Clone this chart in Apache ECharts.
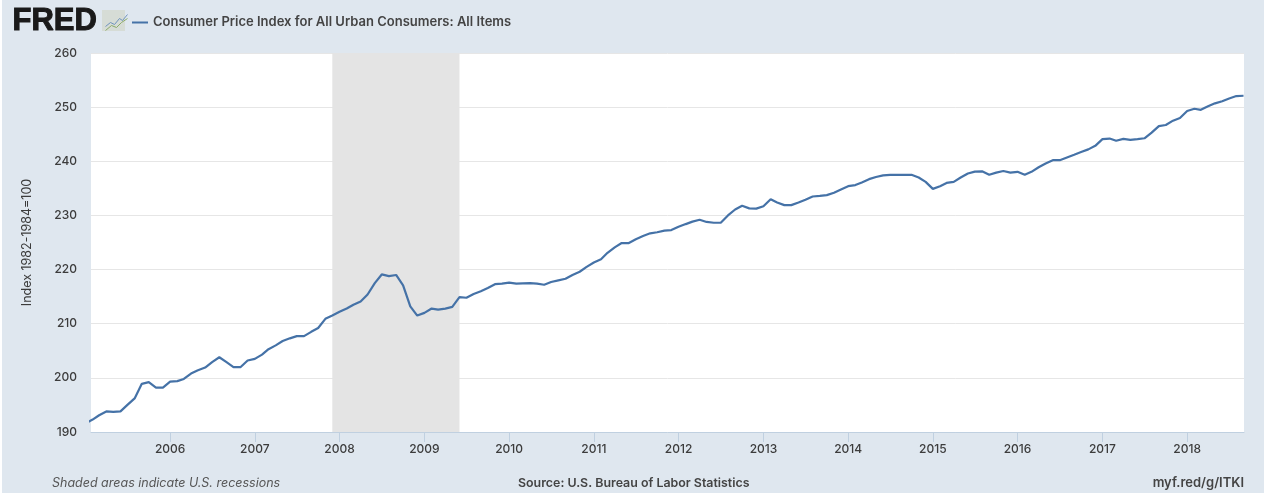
<!DOCTYPE html>
<html>
<head>
<meta charset="utf-8">
<title>FRED CPI</title>
<script src="https://cdn.jsdelivr.net/npm/echarts@6/dist/echarts.min.js"></script>
<style>
  html, body { margin: 0; padding: 0; background: #fff; }
  #chart { position: absolute; left: 2px; top: 0; width: 1262px; height: 493px; }
</style>
</head>
<body>
<div id="chart"></div>
<script>
// monthly values, starting at january 2005
const startYear = 2005;
const cpi = [
  191.6, 192.3, 193.1, 193.8, 193.7, 193.8, 195.0, 196.2, 198.9, 199.2, 198.2, 198.2,
  199.3, 199.4, 199.8, 200.8, 201.4, 201.9, 202.9, 203.8, 202.9, 202.0, 202.0, 203.2,
  203.5, 204.3, 205.3, 206.0, 206.8, 207.3, 207.7, 207.7, 208.5, 209.2, 210.9, 211.5,
  212.2, 212.8, 213.5, 214.1, 215.4, 217.5, 219.1, 218.8, 219.0, 217.1, 213.2, 211.5,
  212.0, 212.8, 212.6, 212.8, 213.1, 214.9, 214.8, 215.5, 216.0, 216.6, 217.3, 217.4,
  217.6, 217.4, 217.45, 217.5, 217.4, 217.2, 217.7, 218.0, 218.3, 219.0, 219.6, 220.5,
  221.3, 221.9, 223.1, 224.1, 224.9, 224.9, 225.6, 226.2, 226.7, 226.9, 227.2, 227.3,
  227.9, 228.4, 228.85, 229.2, 228.8, 228.65, 228.65, 230.0, 231.1, 231.8, 231.3, 231.25,
  231.7, 233.0, 232.4, 231.9, 231.9, 232.4, 232.9, 233.5, 233.6, 233.75, 234.2, 234.8,
  235.4, 235.6, 236.1, 236.7, 237.1, 237.4, 237.5, 237.5, 237.5, 237.5, 237.0, 236.2,
  234.9, 235.4, 236.0, 236.2, 237.0, 237.75, 238.1, 238.15, 237.5, 237.9, 238.2, 237.9,
  238.05, 237.5, 238.05, 238.9, 239.6, 240.2, 240.2, 240.7, 241.2, 241.7, 242.2, 242.85,
  244.1, 244.2, 243.8, 244.15, 243.95, 244.1, 244.25, 245.3, 246.5, 246.7, 247.5, 248.0,
  249.3, 249.7, 249.5, 250.15, 250.7, 251.1, 251.6, 252.05, 252.1
];
const yTicks = [190, 200, 210, 220, 230, 240, 250, 260];
const xYears = [2006, 2007, 2008, 2009, 2010, 2011, 2012, 2013, 2014, 2015, 2016, 2017, 2018];
const recession = ['2007-12-01', '2009-06-01'];

const seriesData = cpi.map(function (v, i) {
  return [Date.UTC(startYear + Math.floor(i / 12), i % 12, 1), v];
});
const yearTicks = xYears.map(function (y) { return Date.UTC(y, 0, 1); });

const textColor = '#3c3c3c';
const chart = echarts.init(document.getElementById('chart'), null, { renderer: 'canvas' });
chart.setOption({
  backgroundColor: '#dfe7ef',
  animation: false,
  legend: {
    left: 125, top: 11,
    itemWidth: 16, itemHeight: 2,
    icon: 'rect',
    textStyle: { color: '#444', fontFamily: 'Inter', fontWeight: 600, fontSize: 13 }
  },
  grid: { left: 89, right: 20, top: 53, bottom: 61, backgroundColor: '#fff', show: true, borderWidth: 0 },
  xAxis: {
    // value axis holding timestamps, customValues does not work on type time
    type: 'value',
    min: Date.UTC(2005, 0, 25),
    max: Date.UTC(2018, 8, 3),
    axisLine: { lineStyle: { color: '#c0d0e0', width: 1 } },
    axisTick: { show: true, length: 10, customValues: yearTicks, lineStyle: { color: '#c0d0e0' } },
    axisLabel: {
      customValues: yearTicks,
      formatter: function (v) { return String(new Date(v).getUTCFullYear()); },
      color: textColor, fontFamily: 'Inter', fontWeight: 500, fontSize: 12, margin: 11
    },
    splitLine: { show: false }
  },
  yAxis: {
    type: 'value',
    min: yTicks[0],
    max: yTicks[yTicks.length - 1],
    interval: 10,
    name: 'Index 1982-1984=100',
    nameLocation: 'middle',
    nameGap: 57,
    nameTextStyle: { color: textColor, fontFamily: 'Inter', fontSize: 12.5 },
    axisLine: { show: false },
    axisTick: { show: false },
    axisLabel: { color: textColor, fontFamily: 'Inter', fontWeight: 500, fontSize: 12, margin: 14 },
    splitLine: { lineStyle: { color: '#e6e6e6', width: 1 } }
  },
  series: [{
    name: 'Consumer Price Index for All Urban Consumers: All Items',
    type: 'line',
    data: seriesData,
    showSymbol: false,
    smooth: false,
    clip: true,
    lineStyle: { color: '#4572a7', width: 2.2 },
    itemStyle: { color: '#4572a7' },
    markArea: {
      silent: true,
      itemStyle: { color: '#e4e4e4' },
      label: { show: false },
      data: [[{ xAxis: Date.parse(recession[0]) }, { xAxis: Date.parse(recession[1]) }]]
    }
  }],
  graphic: [
    { type: 'text', left: 10, top: 5,
      style: { text: 'FRED', fill: '#1a1a1a', stroke: '#1a1a1a', lineWidth: 1, font: '900 31px "Liberation Sans"' } },
    { type: 'rect', left: 100, top: 10, shape: { width: 23, height: 21 },
      style: { fill: '#d6dcd6' } },
    { type: 'polyline', left: 101, top: 12, shape: { points: [[0, 12], [5, 8], [9, 10], [14, 4], [17, 6], [22, 0]] },
      style: { stroke: '#6f93bd', fill: null, lineWidth: 1 } },
    { type: 'polyline', left: 101, top: 16, shape: { points: [[0, 12], [6, 7], [11, 9], [16, 4], [22, 0]] },
      style: { stroke: '#8cab6a', fill: null, lineWidth: 1 } },
    { type: 'text', left: 50, top: 477,
      style: { text: 'Shaded areas indicate U.S. recessions', fill: '#555', font: 'italic 12.5px Inter' } },
    { type: 'text', left: 516, top: 477,
      style: { text: 'Source: U.S. Bureau of Labor Statistics', fill: '#444', font: '600 12.4px Inter' } },
    { type: 'text', right: 20, top: 477,
      style: { text: 'myf.red/g/ITKI', fill: '#444', font: '600 13px Inter' } }
  ]
});
</script>
</body>
</html>
